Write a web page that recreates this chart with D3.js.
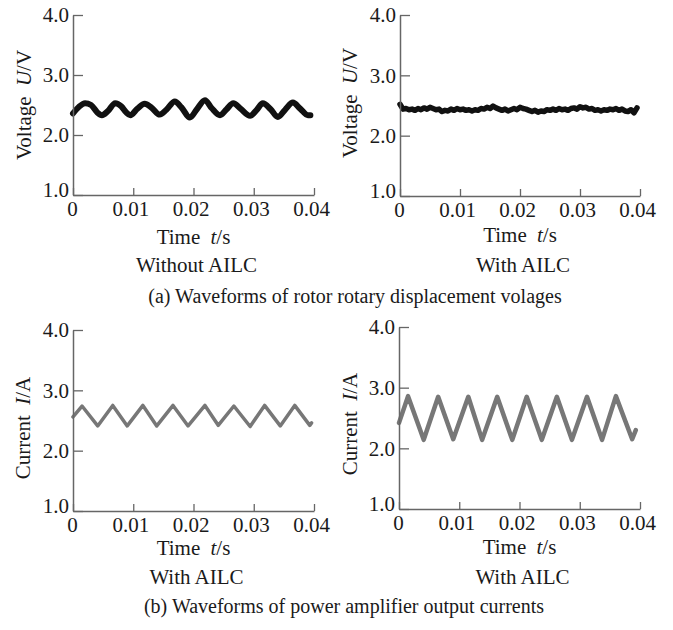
<!DOCTYPE html>
<html>
<head>
<meta charset="utf-8">
<script src="https://cdn.jsdelivr.net/npm/d3@7"></script>
<style>
  body { margin: 0; background: #fff; }
  svg { display: block; }
  text { font-family: "Liberation Serif", "Times New Roman", serif; fill: #1a1a1a; }
</style>
</head>
<body>
<div id="chart"></div>
<script>
const width = 673;
const height = 630;
const fontSize = 21;

// [time (s), value]
const voltageWithout = [
  [0, 2.36], [0.0010, 2.47], [0.0020, 2.53], [0.0030, 2.50], [0.0040, 2.38], [0.0048, 2.33],
  [0.0058, 2.40], [0.0070, 2.53], [0.0080, 2.48], [0.0088, 2.38], [0.0095, 2.33], [0.0107, 2.44],
  [0.0119, 2.52], [0.0130, 2.46], [0.0144, 2.34], [0.0155, 2.42], [0.0169, 2.56], [0.0180, 2.46],
  [0.0194, 2.29], [0.0205, 2.42], [0.0219, 2.58], [0.0230, 2.45], [0.0244, 2.33], [0.0255, 2.43],
  [0.0266, 2.53], [0.0278, 2.44], [0.0294, 2.32], [0.0305, 2.42], [0.0315, 2.53], [0.0328, 2.43],
  [0.0340, 2.30], [0.0352, 2.42], [0.0365, 2.54], [0.0377, 2.44], [0.0390, 2.33], [0.0394, 2.33]
];

const voltageWith = [
  [0, 2.52], [0.0005, 2.44], [0.0010, 2.45], [0.0015, 2.43], [0.0020, 2.44], [0.0025, 2.42],
  [0.0030, 2.45], [0.0035, 2.43], [0.0040, 2.46], [0.0045, 2.44], [0.0050, 2.47], [0.0055, 2.45],
  [0.0060, 2.43], [0.0065, 2.44], [0.0070, 2.40], [0.0075, 2.42], [0.0080, 2.41], [0.0085, 2.44],
  [0.0090, 2.42], [0.0095, 2.45], [0.0100, 2.43], [0.0105, 2.44], [0.0110, 2.42], [0.0115, 2.43],
  [0.0120, 2.41], [0.0125, 2.43], [0.0130, 2.42], [0.0135, 2.45], [0.0140, 2.44], [0.0145, 2.47],
  [0.0150, 2.45], [0.0155, 2.49], [0.0160, 2.46], [0.0165, 2.44], [0.0170, 2.42], [0.0175, 2.44],
  [0.0180, 2.41], [0.0185, 2.43], [0.0190, 2.45], [0.0195, 2.43], [0.0200, 2.47], [0.0205, 2.45],
  [0.0210, 2.44], [0.0215, 2.42], [0.0220, 2.40], [0.0225, 2.42], [0.0230, 2.39], [0.0235, 2.41],
  [0.0240, 2.40], [0.0245, 2.43], [0.0250, 2.42], [0.0255, 2.44], [0.0260, 2.42], [0.0265, 2.45],
  [0.0270, 2.43], [0.0275, 2.44], [0.0280, 2.42], [0.0285, 2.45], [0.0290, 2.46], [0.0295, 2.44],
  [0.0300, 2.48], [0.0305, 2.46], [0.0310, 2.47], [0.0315, 2.44], [0.0320, 2.45], [0.0325, 2.42],
  [0.0330, 2.43], [0.0335, 2.41], [0.0340, 2.43], [0.0345, 2.42], [0.0350, 2.44], [0.0355, 2.43],
  [0.0360, 2.45], [0.0365, 2.42], [0.0370, 2.44], [0.0375, 2.41], [0.0380, 2.40], [0.0385, 2.43],
  [0.0390, 2.38], [0.0395, 2.46]
];

const currentLeft = [
  [0, 2.56], [0.0015, 2.74], [0.0041, 2.41], [0.0066, 2.75], [0.0090, 2.41], [0.0116, 2.75],
  [0.0139, 2.41], [0.0166, 2.75], [0.0191, 2.41], [0.0219, 2.75], [0.0241, 2.42], [0.0267, 2.74],
  [0.0294, 2.40], [0.0318, 2.75], [0.0344, 2.41], [0.0368, 2.75], [0.0393, 2.42], [0.0396, 2.46]
];

const currentRight = [
  [0, 2.42], [0.0015, 2.86], [0.0041, 2.14], [0.0065, 2.85], [0.0090, 2.15], [0.0115, 2.85],
  [0.0138, 2.14], [0.0163, 2.85], [0.0188, 2.14], [0.0212, 2.85], [0.0237, 2.14], [0.0262, 2.85],
  [0.0287, 2.14], [0.0312, 2.85], [0.0337, 2.14], [0.0360, 2.86], [0.0387, 2.15], [0.0393, 2.30]
];

const xTicks = [0, 0.01, 0.02, 0.03, 0.04];
const yTicks = [1.0, 2.0, 3.0, 4.0];
const subTitles = ["Without AILC", "With AILC", "With AILC", "With AILC"];
const captions = ["(a) Waveforms of rotor rotary displacement volages",
                  "(b) Waveforms of power amplifier output currents"];

const svg = d3.select("#chart").append("svg")
  .attr("width", width)
  .attr("height", height);

const panels = [
  { data: voltageWithout, left: 73, right: 314, top: 15, bottom: 195, color: "#111", sw: 6,
    yName: "Voltage", yVar: "U", yUnit: "/V", yTitleX: 31, yTitleY: 105, timeY: 244, subY: 272, curve: d3.curveMonotoneX },
  { data: voltageWith, left: 400, right: 640, top: 15, bottom: 196, color: "#111", sw: 5.5,
    yName: "Voltage", yVar: "U", yUnit: "/V", yTitleX: 357, yTitleY: 103, timeY: 242, subY: 272, curve: d3.curveLinear },
  { data: currentLeft, left: 73, right: 314, top: 330, bottom: 511, color: "#777", sw: 3.5,
    yName: "Current", yVar: "I", yUnit: "/A", yTitleX: 30, yTitleY: 428, timeY: 555, subY: 584, curve: d3.curveLinear },
  { data: currentRight, left: 399, right: 640, top: 327, bottom: 509, color: "#777", sw: 4.5,
    yName: "Current", yVar: "I", yUnit: "/A", yTitleX: 357, yTitleY: 424, timeY: 554, subY: 584, curve: d3.curveLinear }
];

panels.forEach(function(p, i) {
  const x = d3.scaleLinear().domain([0, 0.04]).range([p.left, p.right]);
  const y = d3.scaleLinear().domain([1, 4]).range([p.bottom, p.top]);

  const line = d3.line()
    .x(d => x(d[0]))
    .y(d => y(d[1]))
    .curve(p.curve);

  svg.append("path")
    .datum(p.data)
    .attr("fill", "none")
    .attr("stroke", p.color)
    .attr("stroke-width", p.sw)
    .attr("stroke-linejoin", "round")
    .attr("stroke-linecap", "round")
    .attr("d", line);

  const yAxis = svg.append("g")
    .attr("transform", `translate(${p.left},0)`)
    .call(d3.axisLeft(y).tickValues(yTicks).tickSize(-10).tickSizeOuter(0).tickPadding(4).tickFormat(d3.format(".1f")));

  const xAxis = svg.append("g")
    .attr("transform", `translate(0,${p.bottom})`)
    .call(d3.axisBottom(x).tickValues(xTicks).tickSize(-7).tickSizeOuter(0).tickPadding(6)
      .tickFormat(d => d === 0 ? "0" : d3.format(".2f")(d)));

  [yAxis, xAxis].forEach(function(g) {
    g.select(".domain").attr("stroke", "#666").attr("stroke-width", 1.5);
    g.selectAll(".tick line").attr("stroke", "#666").attr("stroke-width", 1.3);
    g.selectAll(".tick text").attr("font-size", fontSize).attr("font-family", "Liberation Serif").attr("fill", "#1a1a1a");
  });
  xAxis.selectAll(".tick text").attr("dx", d => d === 0 ? "-1" : "-3");
  // lift the bottom label a little so it clears the "0" under it
  yAxis.selectAll(".tick text").filter(d => d === 1).attr("dy", "0.05em");

  const cx = (p.left + p.right) / 2;

  const tt = svg.append("text")
    .attr("x", cx)
    .attr("y", p.timeY)
    .attr("text-anchor", "middle")
    .attr("font-size", fontSize);
  tt.append("tspan").text("Time ");
  tt.append("tspan").attr("dx", 5).attr("font-style", "italic").text("t");
  tt.append("tspan").text("/s");

  svg.append("text")
    .attr("x", cx + 3)
    .attr("y", p.subY)
    .attr("text-anchor", "middle")
    .attr("font-size", fontSize)
    .text(subTitles[i]);

  const yt = svg.append("text")
    .attr("transform", `translate(${p.yTitleX},${p.yTitleY}) rotate(-90)`)
    .attr("text-anchor", "middle")
    .attr("font-size", fontSize);
  yt.append("tspan").text(p.yName + " ");
  yt.append("tspan").attr("dx", 5).attr("font-style", "italic").text(p.yVar);
  yt.append("tspan").text(p.yUnit);
});

svg.append("text")
  .attr("x", 355)
  .attr("y", 303)
  .attr("text-anchor", "middle")
  .attr("font-size", fontSize - 1)
  .text(captions[0]);

svg.append("text")
  .attr("x", 344)
  .attr("y", 613)
  .attr("text-anchor", "middle")
  .attr("font-size", fontSize - 1)
  .text(captions[1]);
</script>
</body>
</html>
